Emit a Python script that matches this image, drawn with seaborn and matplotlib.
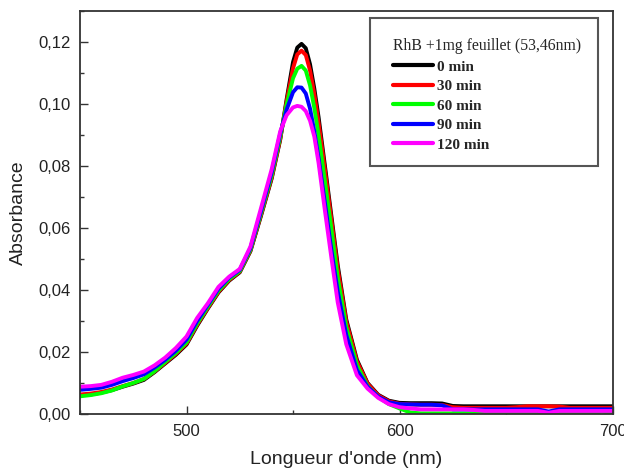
import matplotlib
matplotlib.use("Agg")
import matplotlib.pyplot as plt
from matplotlib.ticker import MultipleLocator, FuncFormatter
from matplotlib.patches import Rectangle
from matplotlib.lines import Line2D
from matplotlib.font_manager import FontProperties
import seaborn as sns
import pandas as pd

# UV-vis spectra of RhB with 1 mg of sheets, recorded at several contact times
wavelength = [450, 455, 460, 465, 470, 475, 480, 485, 490, 495, 500, 505, 510, 515,
              520, 525, 530, 535, 540, 544, 547, 550, 552, 554, 556, 558, 560, 562,
              565, 568, 571, 575, 580, 585, 590, 595, 600, 605, 610, 615, 620, 625,
              630, 635, 640, 645, 650, 655, 660, 665, 670, 675, 680, 685, 690, 695, 700]

abs_0min = [0.0060, 0.0063, 0.0069, 0.0077, 0.0088, 0.0098, 0.0110, 0.0135, 0.0163, 0.0191,
            0.0224, 0.0285, 0.0340, 0.0392, 0.0430, 0.0457, 0.0525, 0.0640, 0.0760, 0.0885,
            0.1015, 0.1135, 0.1182, 0.1194, 0.1180, 0.1128, 0.1050, 0.0958, 0.0800, 0.0640,
            0.0480, 0.0305, 0.0175, 0.0100, 0.0062, 0.0043, 0.0036, 0.0035, 0.0035, 0.0035,
            0.0034, 0.0026, 0.0025, 0.0025, 0.0025, 0.0025, 0.0025, 0.0025, 0.0025, 0.0025,
            0.0025, 0.0025, 0.0025, 0.0025, 0.0025, 0.0025, 0.0025]

abs_30min = [0.0063, 0.0066, 0.0071, 0.0079, 0.0090, 0.0100, 0.0113, 0.0137, 0.0165, 0.0194,
             0.0227, 0.0288, 0.0342, 0.0394, 0.0432, 0.0459, 0.0527, 0.0643, 0.0763, 0.0888,
             0.1008, 0.1115, 0.1160, 0.1172, 0.1158, 0.1108, 0.1032, 0.0940, 0.0787, 0.0627,
             0.0468, 0.0298, 0.0170, 0.0098, 0.0060, 0.0041, 0.0033, 0.0031, 0.0030, 0.0030,
             0.0029, 0.0022, 0.0020, 0.0020, 0.0020, 0.0020, 0.0020, 0.0022, 0.0025, 0.0025,
             0.0025, 0.0024, 0.0020, 0.0020, 0.0020, 0.0020, 0.0020]

abs_60min = [0.0057, 0.0061, 0.0067, 0.0076, 0.0089, 0.0100, 0.0113, 0.0138, 0.0168, 0.0197,
             0.0231, 0.0292, 0.0346, 0.0398, 0.0435, 0.0461, 0.0530, 0.0648, 0.0770, 0.0895,
             0.0998, 0.1083, 0.1114, 0.1123, 0.1108, 0.1060, 0.0988, 0.0900, 0.0750, 0.0598,
             0.0440, 0.0280, 0.0158, 0.0090, 0.0055, 0.0032, 0.0018, 0.0005, 0.0002, 0.0002,
             0.0002, 0.0002, 0.0002, 0.0002, 0.0002, 0.0002, 0.0002, 0.0002, 0.0002, 0.0002,
             0.0002, 0.0002, 0.0002, 0.0002, 0.0002, 0.0008, 0.0002]

abs_90min = [0.0078, 0.0081, 0.0085, 0.0094, 0.0106, 0.0116, 0.0128, 0.0150, 0.0175, 0.0204,
             0.0240, 0.0300, 0.0352, 0.0404, 0.0440, 0.0465, 0.0535, 0.0655, 0.0780, 0.0905,
             0.0982, 0.1038, 0.1054, 0.1053, 0.1034, 0.0985, 0.0912, 0.0826, 0.0680, 0.0530,
             0.0395, 0.0255, 0.0142, 0.0088, 0.0056, 0.0038, 0.0032, 0.0031, 0.0030, 0.0030,
             0.0028, 0.0015, 0.0015, 0.0015, 0.0015, 0.0015, 0.0015, 0.0015, 0.0015, 0.0015,
             0.0008, 0.0015, 0.0015, 0.0015, 0.0015, 0.0015, 0.0015]

abs_120min = [0.0088, 0.0090, 0.0094, 0.0104, 0.0117, 0.0126, 0.0137, 0.0157, 0.0182, 0.0213,
              0.0250, 0.0310, 0.0357, 0.0410, 0.0443, 0.0468, 0.0540, 0.0665, 0.0790, 0.0912,
              0.0964, 0.0989, 0.0994, 0.0991, 0.0977, 0.0946, 0.0895, 0.0810, 0.0655, 0.0505,
              0.0360, 0.0225, 0.0125, 0.0082, 0.0052, 0.0032, 0.0022, 0.0018, 0.0015, 0.0015,
              0.0015, 0.0015, 0.0015, 0.0013, 0.0010, 0.0010, 0.0010, 0.0010, 0.0010, 0.0010,
              0.0004, 0.0010, 0.0010, 0.0010, 0.0010, 0.0010, 0.0010]

series_labels = ["0 min", "30 min", "60 min", "90 min", "120 min"]
series_colors = ["#000000", "#ff0000", "#00ff00", "#0000ff", "#ff00ff"]
legend_title = "RhB +1mg feuillet (53,46nm)"

frames = []
for label, values in zip(series_labels,
                         [abs_0min, abs_30min, abs_60min, abs_90min, abs_120min]):
    frames.append(pd.DataFrame({"wavelength": wavelength, "absorbance": values, "time": label}))
df = pd.concat(frames, ignore_index=True)

sns.set_style("white")
plt.rcParams["font.family"] = ["Liberation Sans", "DejaVu Sans"]

fig = plt.figure(figsize=(6.24, 4.75), dpi=100)
ax = fig.add_axes([0.1282, 0.1284, 0.8534, 0.8484])

sns.lineplot(data=df, x="wavelength", y="absorbance", hue="time",
             hue_order=series_labels, palette=dict(zip(series_labels, series_colors)),
             estimator=None, linewidth=2.8, legend=False, ax=ax)

ax.set_xlim(450, 700)
ax.set_ylim(0, 0.13)
ax.xaxis.set_major_locator(MultipleLocator(100))
ax.xaxis.set_minor_locator(MultipleLocator(50))
ax.yaxis.set_major_locator(MultipleLocator(0.02))
ax.yaxis.set_minor_locator(MultipleLocator(0.01))
ax.yaxis.set_major_formatter(FuncFormatter(lambda v, _: f"{v:.2f}".replace(".", ",")))

ax.tick_params(which="major", direction="in", length=6, width=1.0, color="#333333",
               labelsize=12, labelcolor="#222222", pad=7)
ax.tick_params(which="minor", direction="in", length=3, width=1.0, color="#333333")
ax.tick_params(axis="y", left=True, which="both")
ax.tick_params(axis="x", bottom=True, which="both")

for spine in ax.spines.values():
    spine.set_visible(True)
    spine.set_color("#333333")
    spine.set_linewidth(1.3)

ax.set_xlabel("Longueur d'onde (nm)", fontsize=14, color="#222222", labelpad=9)
ax.set_ylabel("Absorbance", fontsize=14, color="#222222", labelpad=8)

# legend frame
ax.add_patch(Rectangle((0.5446, 0.6154), 0.4282, 0.3672, transform=ax.transAxes,
                       fill=True, facecolor="white", edgecolor="#555555",
                       linewidth=1.5, zorder=5))

handles = [Line2D([], [], color=c, linewidth=3) for c in series_colors]
leg = ax.legend(handles, series_labels, title=legend_title,
                loc="upper left", bbox_to_anchor=(0.5878, 0.9326),
                borderaxespad=0, borderpad=0, frameon=False,
                handlelength=2.6, handletextpad=0.3, labelspacing=0.38,
                prop=FontProperties(family="Liberation Serif", weight="bold", size=11),
                title_fontproperties=FontProperties(family="Liberation Serif", size=11.3),
                alignment="left")
leg.set_zorder(6)

fig.savefig("out.png", dpi=100)
